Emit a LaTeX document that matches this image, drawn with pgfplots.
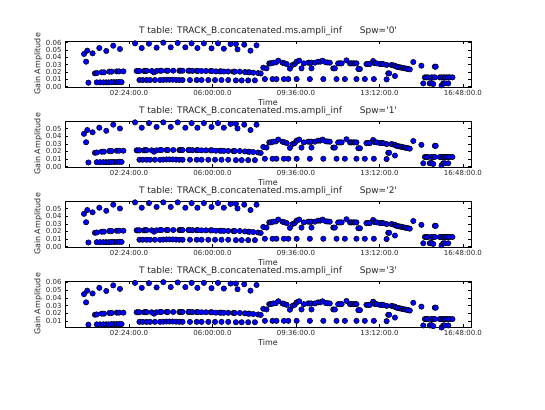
\documentclass[border=0pt]{standalone}
\usepackage{fontspec}
\setmainfont{DejaVu Sans}
\usepackage{pgfplots}
\usepackage{pgfplotstable}
\pgfplotsset{compat=1.18}

% top row, spw 0 and 3
\pgfplotstableread{
x y
0.46 0.0446
0.55 0.0341
0.60 0.0491
0.83 0.0455
1.12 0.0527
1.42 0.0487
1.72 0.0559
2.01 0.0514
2.66 0.0591
2.95 0.0527
3.26 0.0587
3.59 0.0532
3.88 0.0600
4.20 0.0537
4.50 0.0596
4.83 0.0537
5.10 0.0591
5.35 0.0527
5.63 0.0591
5.96 0.0523
6.24 0.0591
6.49 0.0518
6.78 0.0582
7.01 0.0582
7.08 0.0509
7.37 0.0573
7.64 0.0491
7.90 0.0564
}\topA

% top row, spw 1 and 2
\pgfplotstableread{
x y
0.46 0.0430
0.55 0.0320
0.60 0.0480
0.83 0.0450
1.12 0.0510
1.42 0.0470
1.72 0.0550
2.01 0.0500
2.66 0.0580
2.95 0.0510
3.26 0.0570
3.59 0.0520
3.88 0.0580
4.20 0.0520
4.50 0.0580
4.83 0.0510
5.10 0.0570
5.35 0.0510
5.63 0.0570
5.96 0.0520
6.24 0.0570
6.49 0.0510
6.78 0.0560
7.01 0.0560
7.08 0.0500
7.37 0.0550
7.64 0.0480
7.90 0.0550
}\topB

% remaining solutions
\pgfplotstableread{
x y
0.65 0.0055
0.93 0.0182
1.01 0.0186
1.22 0.0196
1.32 0.0196
1.55 0.0205
1.65 0.0205
1.87 0.0209
1.97 0.0209
2.16 0.0209
1.01 0.0059
1.15 0.0059
1.29 0.0059
1.41 0.0059
1.52 0.0059
1.64 0.0062
1.75 0.0062
1.87 0.0062
1.98 0.0064
2.08 0.0062
2.73 0.0214
2.78 0.0214
2.85 0.0214
3.05 0.0214
3.10 0.0216
3.16 0.0216
3.38 0.0214
3.48 0.0196
3.59 0.0214
3.74 0.0218
3.80 0.0218
4.02 0.0218
4.08 0.0218
4.31 0.0218
4.57 0.0218
4.63 0.0218
4.71 0.0218
4.96 0.0218
5.02 0.0218
5.14 0.0216
5.32 0.0216
5.38 0.0216
5.53 0.0214
5.72 0.0214
5.92 0.0214
5.98 0.0214
6.15 0.0209
6.32 0.0209
6.38 0.0209
6.49 0.0207
6.68 0.0207
6.90 0.0205
6.96 0.0205
7.18 0.0205
7.40 0.0200
7.54 0.0196
7.60 0.0196
7.76 0.0191
7.97 0.0186
8.08 0.0180
2.85 0.0091
2.99 0.0091
3.16 0.0091
3.31 0.0091
3.52 0.0091
3.74 0.0091
3.88 0.0093
4.02 0.0095
4.14 0.0095
4.28 0.0095
4.43 0.0093
4.57 0.0091
4.71 0.0091
5.03 0.0091
5.32 0.0091
5.53 0.0091
5.82 0.0091
6.11 0.0091
6.39 0.0091
6.68 0.0091
7.01 0.0086
7.26 0.0086
7.54 0.0086
7.83 0.0086
8.19 0.0259
8.33 0.0250
8.45 0.0318
8.52 0.0318
8.62 0.0327
8.73 0.0330
8.84 0.0355
9.02 0.0327
9.10 0.0320
9.20 0.0309
9.34 0.0246
9.45 0.0296
9.55 0.0310
9.63 0.0341
9.74 0.0355
9.84 0.0250
9.94 0.0318
10.13 0.0327
10.20 0.0327
10.27 0.0327
10.27 0.0250
10.42 0.0327
10.56 0.0341
10.65 0.0341
10.75 0.0355
10.89 0.0332
10.97 0.0330
11.06 0.0327
11.21 0.0250
11.28 0.0250
11.42 0.0318
11.50 0.0318
11.57 0.0318
11.78 0.0359
11.93 0.0318
12.00 0.0318
12.07 0.0318
12.14 0.0318
12.21 0.0318
12.29 0.0241
12.36 0.0241
12.64 0.0309
12.72 0.0309
12.79 0.0309
12.93 0.0350
13.00 0.0320
13.08 0.0318
13.22 0.0309
13.29 0.0309
13.36 0.0309
13.51 0.0296
13.58 0.0182
13.62 0.0182
13.72 0.0296
13.80 0.0290
13.87 0.0286
13.94 0.0273
14.01 0.0268
14.08 0.0264
14.15 0.0260
14.22 0.0255
14.30 0.0250
14.37 0.0246
14.44 0.0241
14.51 0.0236
14.66 0.0336
15.01 0.0286
15.59 0.0273
15.63 0.0273
8.26 0.0104
8.59 0.0104
8.76 0.0104
9.08 0.0104
9.27 0.0104
9.63 0.0104
10.20 0.0104
10.78 0.0104
11.35 0.0104
11.71 0.0104
12.21 0.0104
12.57 0.0104
12.96 0.0104
13.51 0.0100
13.87 0.0146
15.16 0.0127
15.23 0.0127
15.30 0.0127
15.44 0.0127
15.52 0.0127
15.59 0.0127
15.80 0.0127
15.87 0.0127
15.95 0.0127
16.02 0.0127
16.09 0.0127
16.17 0.0127
16.24 0.0127
16.35 0.0127
15.09 0.0045
15.37 0.0045
15.44 0.0050
15.52 0.0036
15.88 0.0018
15.95 0.0045
16.02 0.0045
16.17 0.0045
}\rest

\pgfplotsset{
  gainpanel/.style={
    scale only axis, width=406pt, height=46pt,
    anchor=south west,
    xmin=-0.36, xmax=17.15,
    xtick={2.4,6,9.6,13.2,16.8},
    xticklabels={02:24:00.0,06:00:00.0,09:36:00.0,13:12:00.0,16:48:00.0},
    ytick distance=0.01,
    scaled y ticks=false,
    yticklabel style={/pgf/number format/.cd, fixed, fixed zerofill, precision=2, assume math mode=true},
    tick label style={font=\fontsize{7}{7.5}\selectfont, text=black!85},
    tick align=inside, tick pos=both,
    major tick length=3pt,
    every tick/.style={black, line width=0.5pt},
    axis line style={black, line width=0.8pt},
    xlabel={Time}, ylabel={Gain Amplitude},
    label style={font=\fontsize{8}{8.5}\selectfont, text=black!85},
    xlabel style={yshift=3pt},
    ylabel style={yshift=-3pt},
    title style={font=\fontsize{9}{10}\selectfont, text=black!85, yshift=-4pt},
    clip=false,
  },
  gaindots/.style={only marks, mark=*, mark size=2.7pt,
    mark options={draw=black, fill=blue, line width=0.5pt}},
}

\newcommand{\ttl}[1]{T table: TRACK\_B.concatenated.ms.ampli\_inf\hspace{18pt}Spw=\textquotesingle#1\textquotesingle}

\begin{document}
\begin{tikzpicture}
\path[use as bounding box] (0,0) rectangle (545pt,409pt);

\begin{axis}[gainpanel, at={(65pt,322pt)}, ymin=-0.0004, ymax=0.0623, title={\ttl{0}}]
\addplot[gaindots] table {\rest};
\addplot[gaindots] table {\topA};
\end{axis}

\begin{axis}[gainpanel, at={(65pt,242pt)}, ymin=-0.0004, ymax=0.0598, title={\ttl{1}}]
\addplot[gaindots] table {\rest};
\addplot[gaindots] table {\topB};
\end{axis}

\begin{axis}[gainpanel, at={(65pt,162pt)}, ymin=-0.0004, ymax=0.0598, title={\ttl{2}}]
\addplot[gaindots] table {\rest};
\addplot[gaindots] table {\topB};
\end{axis}

\begin{axis}[gainpanel, at={(65pt,82pt)}, ymin=0.0025, ymax=0.0615, title={\ttl{3}}]
\addplot[gaindots] table {\rest};
\addplot[gaindots] table {\topA};
\end{axis}
\end{tikzpicture}
\end{document}
